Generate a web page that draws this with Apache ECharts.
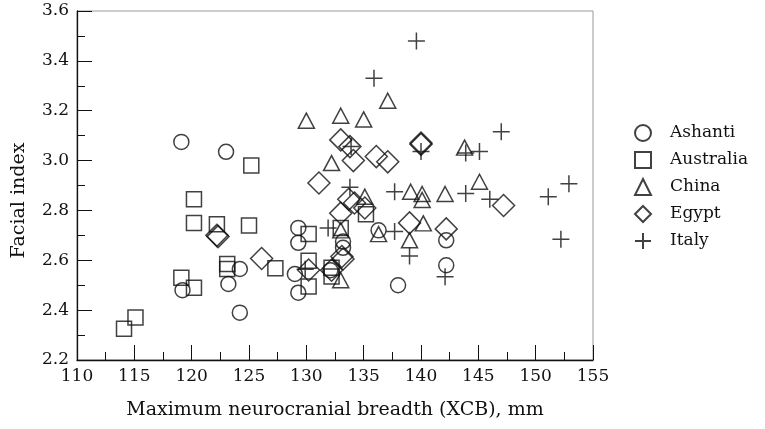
<!DOCTYPE html>
<html>
<head>
<meta charset="utf-8">
<script src="https://cdn.jsdelivr.net/npm/echarts@6/dist/echarts.min.js"></script>
<style>
  html, body { margin: 0; padding: 0; background: #fff; }
  #main { width: 765px; height: 429px; }
</style>
</head>
<body>
<div id="main"></div>
<script>
// values: [XCB in mm, facial index]
var ashanti = [[119.1, 3.075], [123.0, 3.035], [119.2, 2.48], [123.2, 2.505], [124.2, 2.565], [124.2, 2.39],
    [129.3, 2.73], [129.3, 2.67], [129.0, 2.545], [129.3, 2.47], [133.2, 2.675], [133.2, 2.65], [132.1, 2.56],
    [136.3, 2.72], [138.0, 2.5], [142.2, 2.68], [142.2, 2.58]];
var australia = [[125.2, 2.98], [120.2, 2.845], [120.2, 2.75], [122.2, 2.745], [125.0, 2.74], [123.1, 2.585],
    [123.1, 2.565], [119.1, 2.53], [120.2, 2.49], [115.1, 2.37], [114.1, 2.325], [127.3, 2.568], [130.2, 2.705],
    [130.2, 2.598], [130.2, 2.495], [133.0, 2.73], [135.2, 2.785], [132.2, 2.57], [132.2, 2.535]];
var china = [[137.1, 3.24], [130.0, 3.16], [133.0, 3.18], [135.0, 3.165], [132.2, 2.99], [135.1, 2.855],
    [139.1, 2.875], [140.1, 2.866], [140.1, 2.842], [142.1, 2.866], [143.8, 3.052], [145.1, 2.915],
    [133.0, 2.72], [136.3, 2.705], [140.2, 2.748], [139.0, 2.68], [133.0, 2.52]];
var egypt = [[122.2, 2.70], [122.3, 2.695], [126.1, 2.607], [131.1, 2.91], [133.0, 3.083], [133.8, 3.056],
    [134.1, 3.0], [136.1, 3.016], [137.1, 2.995], [140.0, 3.07], [140.0, 3.065], [133.7, 2.845], [134.2, 2.83],
    [133.0, 2.789], [135.1, 2.81], [139.0, 2.75], [142.2, 2.726], [147.2, 2.82], [133.1, 2.615], [133.2, 2.605],
    [130.2, 2.561], [132.2, 2.56]];
var italy = [[139.6, 3.48], [135.9, 3.33], [147.0, 3.116], [145.1, 3.036], [143.9, 3.03], [140.0, 3.036],
    [133.9, 3.056], [133.8, 2.893], [137.7, 2.875], [143.9, 2.868], [146.0, 2.845], [151.1, 2.855],
    [152.9, 2.907], [152.2, 2.684], [131.9, 2.73], [137.7, 2.715], [139.0, 2.617], [142.1, 2.534], [129.9, 2.564]];

var FONT = 'DejaVu Serif';
var INK = '#111';
var plus = 'path://M0,5L10,5M5,0L5,10';

function makeSeries(name, data, symbol, size) {
    return {
        name: name,
        type: 'scatter',
        data: data,
        symbol: symbol,
        symbolSize: size,
        itemStyle: { color: 'rgba(0,0,0,0)', borderColor: INK, borderWidth: 1.5 },
        emphasis: { disabled: true }
    };
}

var myChart = echarts.init(document.getElementById('main'));
myChart.setOption({
    animation: false,
    backgroundColor: '#fff',
    grid: {
        left: 77, right: 172, top: 11, bottom: 69,
        outerBoundsMode: 'none',
        show: true, borderColor: '#999', borderWidth: 1
    },
    legend: {
        orient: 'vertical',
        left: 629,
        top: 119,
        itemWidth: 16,
        itemHeight: 16,
        itemGap: 9,
        textStyle: { fontFamily: FONT, fontSize: 17, color: INK, padding: [0, 0, 0, 14] },
        data: ['Ashanti', 'Australia', 'China', 'Egypt', 'Italy']
    },
    xAxis: {
        type: 'value',
        min: 110,
        max: 155,
        interval: 5,
        name: 'Maximum neurocranial breadth (XCB), mm',
        nameLocation: 'middle',
        nameGap: 41,
        nameTextStyle: { fontFamily: FONT, fontSize: 19, color: INK },
        axisLine: { lineStyle: { color: INK, width: 1.3 } },
        axisTick: { inside: true, length: 15, lineStyle: { color: INK } },
        minorTick: { show: true, splitNumber: 2, length: 8, lineStyle: { color: INK } },
        splitLine: { show: false },
        axisLabel: { fontFamily: FONT, fontSize: 17, color: INK, margin: 8 }
    },
    yAxis: {
        type: 'value',
        min: 2.2,
        max: 3.6,
        interval: 0.2,
        name: 'Facial index',
        nameLocation: 'middle',
        nameGap: 48,
        nameTextStyle: { fontFamily: FONT, fontSize: 19, color: INK, padding: [0, 30, 0, 0] },
        axisLine: { lineStyle: { color: INK, width: 1.3 } },
        axisTick: { inside: true, length: 15, lineStyle: { color: INK } },
        minorTick: { show: true, splitNumber: 2, length: 8, lineStyle: { color: INK } },
        splitLine: { show: false },
        axisLabel: {
            fontFamily: FONT, fontSize: 17, color: INK, margin: 8,
            formatter: function (v) { return v.toFixed(1); }
        }
    },
    series: [
        makeSeries('Ashanti', ashanti, 'circle', 15),
        makeSeries('Australia', australia, 'rect', 15),
        makeSeries('China', china, 'triangle', [16, 15]),
        makeSeries('Egypt', egypt, 'diamond', 22),
        makeSeries('Italy', italy, plus, 17)
    ]
});
window.onresize = myChart.resize;
</script>
</body>
</html>
